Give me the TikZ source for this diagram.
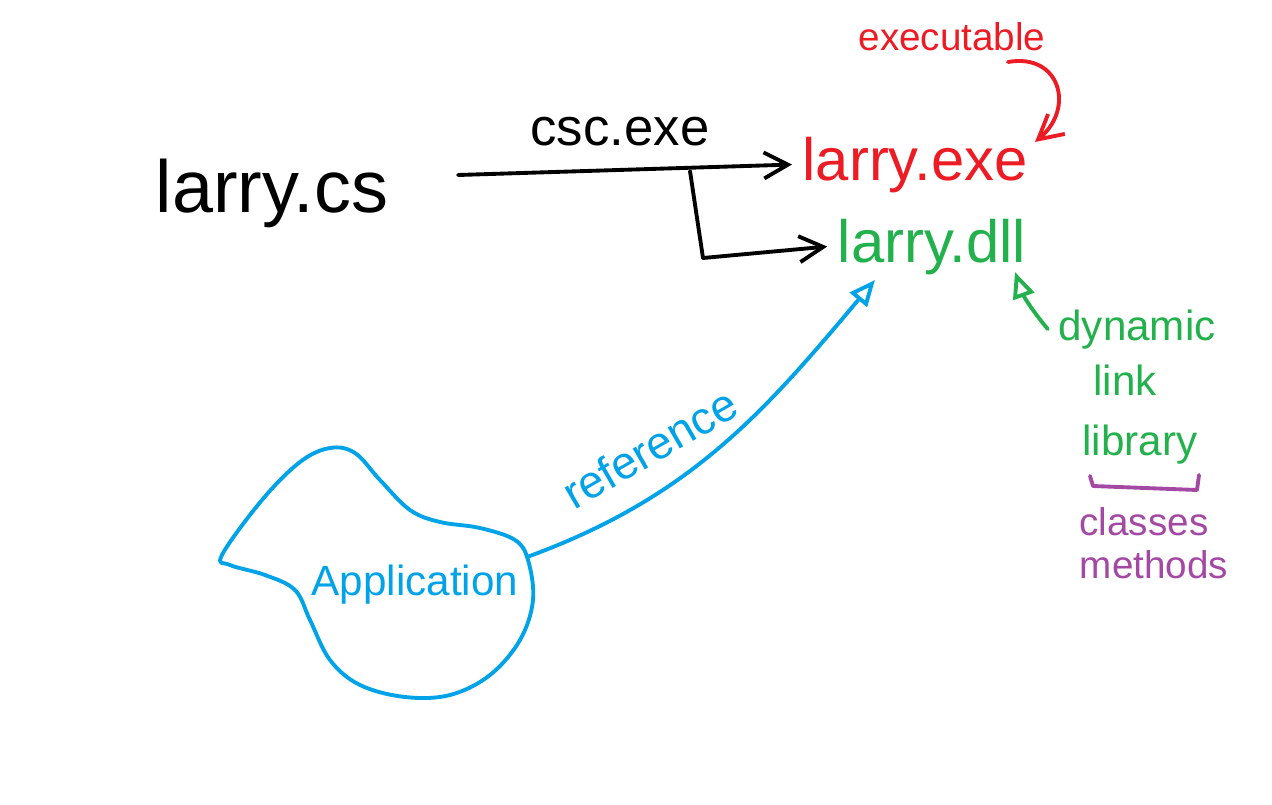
\documentclass[tikz,border=0pt]{standalone}
\usepackage{fontspec}
\setmainfont{Liberation Sans}
\usetikzlibrary{arrows.meta}
\definecolor{paintred}{RGB}{237,28,36}
\definecolor{paintgreen}{RGB}{34,177,76}
\definecolor{paintblue}{RGB}{0,162,232}
\definecolor{paintpurple}{RGB}{163,73,164}
\newcommand{\fsz}[1]{\fontsize{#1}{#1}\selectfont}
\begin{document}
\begin{tikzpicture}[
    pen/.style={line width=1.1pt, line cap=round, line join=round},
    barb/.style={-{Straight Barb[length=2.4mm, width=2.6mm]}},
    hollow/.style={-{Triangle[open, length=2.6mm, width=2.2mm]}}]
\useasboundingbox (0,0) rectangle (12.72,-8.05);
\begin{scope}[every node/.style={anchor=base, inner sep=0.1cm}]
    \node[font=\fsz{21}] (cs) at (2.72,-2.12) {larry.cs};
    \node[font=\fsz{15}] (csc) at (6.20,-1.45) {csc.exe};
    \node[font=\fsz{17}, text=paintred] (exe) at (9.15,-1.80) {larry.exe};
    \node[font=\fsz{17}, text=paintgreen] (dll) at (9.32,-2.62) {larry.dll};
    \node[font=\fsz{11}, text=paintred] (exec) at (9.52,-0.50) {executable};
    \node[font=\fsz{12}, text=paintgreen] (dyn) at (11.37,-3.40) {dynamic};
    \node[font=\fsz{12}, text=paintgreen] (link) at (11.25,-3.95) {link};
    \node[font=\fsz{12}, text=paintgreen] (lib) at (11.40,-4.55) {library};
    \node[font=\fsz{11}, text=paintpurple] (cls) at (11.44,-5.35) {classes};
    \node[font=\fsz{11}, text=paintpurple] (meth) at (11.54,-5.78) {methods};
    \node[font=\fsz{12}, text=paintblue] (app) at (4.15,-5.95) {Application};
    \node[font=\fsz{13}, text=paintblue, anchor=center, rotate=30] (ref) at (6.50,-4.48) {reference};
\end{scope}
\coordinate (tail) at (4.58,-1.75);
\coordinate (split) at (6.90,-1.71);
\coordinate (bend) at (7.03,-2.58);
\coordinate (exectail) at (10.08,-0.62);
\coordinate (exetip) at (10.35,-1.42);
\coordinate (dlltip) at (10.15,-2.72);
\coordinate (appedge) at (5.27,-5.57);
\coordinate (reftip) at (8.75,-2.80);
% the application blob
\draw[pen, paintblue] plot[smooth cycle, tension=0.6] coordinates {
    (2.22,-5.55) (2.62,-5.00) (3.00,-4.62) (3.30,-4.48) (3.55,-4.53)
    (3.80,-4.80) (4.10,-5.10) (4.40,-5.22) (4.80,-5.28) (5.15,-5.40)
    (5.28,-5.60) (5.33,-6.00) (5.20,-6.40) (4.90,-6.75) (4.50,-6.95)
    (4.05,-6.97) (3.60,-6.85) (3.30,-6.60) (3.10,-6.20) (2.95,-5.90)
    (2.65,-5.75) (2.30,-5.65)};
% brace under library
\draw[pen, paintpurple] (10.90,-4.76) -- (10.93,-4.86) -- (11.97,-4.90) -- (11.99,-4.75);
\begin{scope}[every edge/.style={draw, pen}]
    \path (tail) edge[barb] (exe.west);
    \path (split) edge (bend);
    \path (bend) edge[barb] (dll.west);
    \path (exectail) edge[barb, paintred, out=10, in=40, looseness=1.6] (exetip);
    \path (dyn.west) edge[hollow, paintgreen, bend left=10] (dlltip);
    \path (appedge) edge[hollow, paintblue, out=20, in=230] (reftip);
\end{scope}
\end{tikzpicture}
\end{document}
